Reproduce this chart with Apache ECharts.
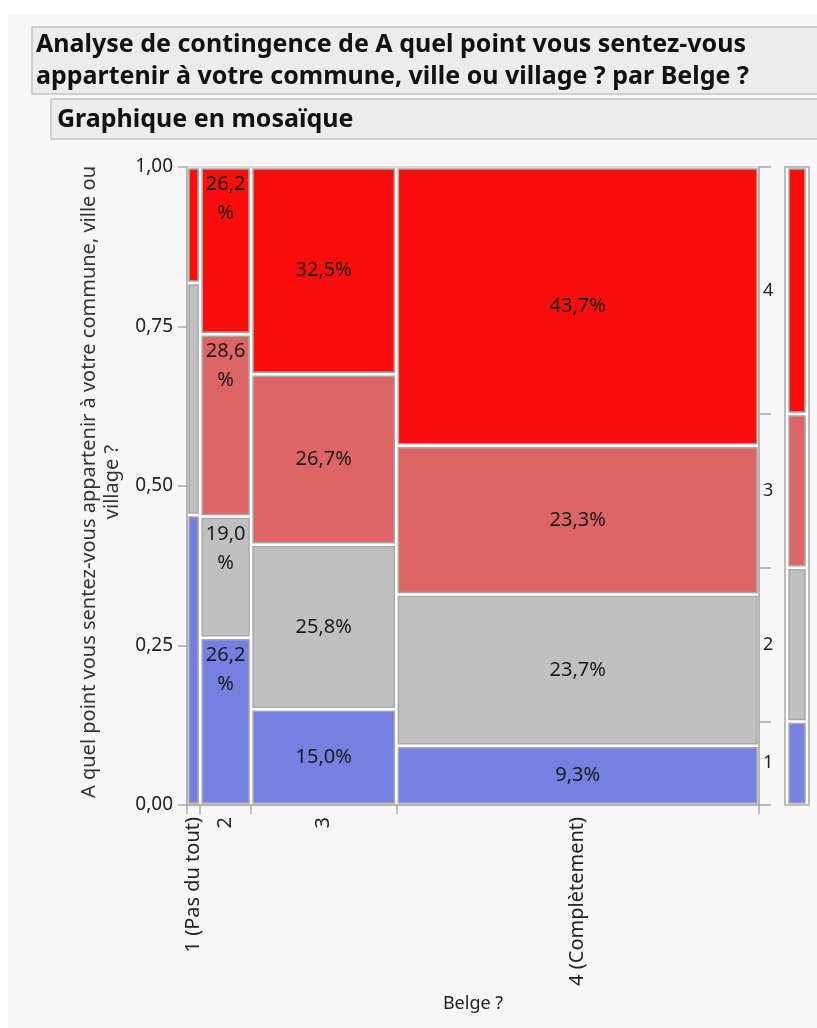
<!DOCTYPE html>
<html lang="fr" style="height: 100%">

<head>
    <meta charset="UTF-8">
    <title>Graphique en mosaïque</title>
    <script type="text/javascript" src="https://cdn.jsdelivr.net/npm/echarts@6/dist/echarts.min.js"></script>
</head>

<body style="height: 100%; margin: 0">
    <div id="container" style="width: 817px; height: 1028px"></div>
    <script type="text/javascript">
    // Belge ? (colonnes du graphique)
    var belgeLevels = ['1 (Pas du tout)', '2', '3', '4 (Complètement)'];
    var belgeShare = [2.3, 8.9, 25.4, 63.4];
    // niveaux empilés de bas en haut
    var feelLevels = ['1', '2', '3', '4'];
    var pctLevel1 = [45.5, 26.2, 15.0, 9.3];
    var pctLevel2 = [36.4, 19.0, 25.8, 23.7];
    var pctLevel3 = [0, 28.6, 26.7, 23.3];
    var pctLevel4 = [18.2, 26.2, 32.5, 43.7];
    var levelColors = ['#7680e0', '#c0c0c0', '#de6565', '#fa0d0d'];

    var fontFamily = '"Noto Sans", "Open Sans", sans-serif';
    var pctByLevel = [pctLevel1, pctLevel2, pctLevel3, pctLevel4];

    function fr(v, d) {
        return v.toFixed(d).replace('.', ',');
    }

    // bords des colonnes (0..1)
    var colEdges = [0];
    belgeShare.forEach(function(s) {
        colEdges.push(colEdges[colEdges.length - 1] + s);
    });
    var shareTotal = colEdges[colEdges.length - 1];
    colEdges = colEdges.map(function(v) { return v / shareTotal; });
    var colMids = [];
    for (var i = 0; i < belgeLevels.length; i++) colMids.push((colEdges[i] + colEdges[i + 1]) / 2);

    // cellules de la mosaique
    var cells = [];
    belgeLevels.forEach(function(name, c) {
        var colSum = 0;
        pctByLevel.forEach(function(p) { colSum += p[c]; });
        var y = 0;
        pctByLevel.forEach(function(p, l) {
            if (p[c] <= 0) return;
            var h = p[c] / colSum;
            cells.push({ value: [colEdges[c], colEdges[c + 1], y, y + h, l], pct: p[c] });
            y += h;
        });
    });

    // repartition globale (barre de droite)
    var overall = pctByLevel.map(function(p) {
        var s = 0;
        p.forEach(function(v, c) { s += v * belgeShare[c] / shareTotal; });
        return s / 100;
    });
    var overallSum = overall.reduce(function(a, b) { return a + b; }, 0);
    var margEdges = [0];
    overall.forEach(function(v) { margEdges.push(margEdges[margEdges.length - 1] + v / overallSum); });
    var margMids = [];
    for (var k = 0; k < feelLevels.length; k++) margMids.push((margEdges[k] + margEdges[k + 1]) / 2);
    var margCells = overall.map(function(v, l) {
        return { value: [0, 1, margEdges[l], margEdges[l + 1], l] };
    });

    function nearest(arr, v) {
        var best = 0;
        arr.forEach(function(a, i) {
            if (Math.abs(a - v) < Math.abs(arr[best] - v)) best = i;
        });
        return best;
    }

    function renderCell(params, api) {
        var tl = api.coord([api.value(0), api.value(3)]);
        var br = api.coord([api.value(1), api.value(2)]);
        var x = tl[0] + 2, y = tl[1] + 2;
        var w = br[0] - tl[0] - 4, h = br[1] - tl[1] - 4;
        var children = [{
            type: 'rect',
            shape: { x: x, y: y, width: w, height: h },
            style: { fill: levelColors[api.value(4)], stroke: '#a9a9a9', lineWidth: 1.5 }
        }];
        var cell = cells[params.dataIndex];
        if (w > 30) {
            var txt = fr(cell.pct, 1);
            if (w < 80) {
                children.push({
                    type: 'text', x: x + w / 2, y: y + 1,
                    style: { text: txt + '\n%', align: 'center', verticalAlign: 'top', lineHeight: 29,
                        font: '20px ' + fontFamily, fill: '#1a1a1a' }
                });
            } else {
                children.push({
                    type: 'text', x: x + w / 2, y: y + h / 2,
                    style: { text: txt + '%', align: 'center', verticalAlign: 'middle',
                        font: '20px ' + fontFamily, fill: '#1a1a1a' }
                });
            }
        }
        return { type: 'group', children: children };
    }

    function renderMarg(params, api) {
        var tl = api.coord([api.value(0), api.value(3)]);
        var br = api.coord([api.value(1), api.value(2)]);
        return {
            type: 'rect',
            shape: { x: tl[0] + 4, y: tl[1] + 2, width: br[0] - tl[0] - 8, height: br[1] - tl[1] - 4 },
            style: { fill: levelColors[api.value(4)], stroke: '#a9a9a9', lineWidth: 1.5 }
        };
    }

    var axisColor = '#a8a8a8';
    var textColor = '#222';

    var myChart = echarts.init(document.getElementById('container'));
    var option = {
        backgroundColor: '#f7f7f7',
        animation: false,
        graphic: [
            { type: 'rect', shape: { x: 0, y: 0, width: 817, height: 14 }, style: { fill: '#fff' } },
            { type: 'rect', shape: { x: 0, y: 0, width: 8, height: 1028 }, style: { fill: '#fff' } },
            { type: 'rect', shape: { x: 32, y: 27, width: 800, height: 67 },
              style: { fill: '#ececec', stroke: '#c4c4c4', lineWidth: 1.5 } },
            { type: 'text', x: 36, y: 45,
              style: { text: 'Analyse de contingence de A quel point vous sentez-vous', verticalAlign: 'middle',
                font: 'bold 25px ' + fontFamily, fill: '#111' } },
            { type: 'text', x: 36, y: 77,
              style: { text: 'appartenir à votre commune, ville ou village ? par Belge ?', verticalAlign: 'middle',
                font: 'bold 25px ' + fontFamily, fill: '#111' } },
            { type: 'rect', shape: { x: 51, y: 99, width: 780, height: 40 },
              style: { fill: '#ececec', stroke: '#c4c4c4', lineWidth: 1.5 } },
            { type: 'text', x: 57, y: 120,
              style: { text: 'Graphique en mosaïque', verticalAlign: 'middle',
                font: 'bold 25px ' + fontFamily, fill: '#111' } },
            { type: 'text', x: 101, y: 482, rotation: Math.PI / 2,
              style: { text: 'A quel point vous sentez-vous appartenir à votre commune, ville ou\nvillage ?',
                align: 'center', verticalAlign: 'middle', lineHeight: 23,
                font: '20px ' + fontFamily, fill: '#333' } }
        ],
        grid: [{
            left: 187, right: 58, top: 167, bottom: 223,
            show: true, backgroundColor: '#fff', borderColor: '#c0c0c0', borderWidth: 1
        }, {
            left: 785, width: 24, top: 167, bottom: 223,
            show: true, backgroundColor: '#fff', borderColor: axisColor, borderWidth: 1.5
        }],
        xAxis: [{
            type: 'value', gridIndex: 0, min: 0, max: 1,
            splitLine: { show: false },
            axisLine: { lineStyle: { color: axisColor, width: 1.5 } },
            axisTick: { length: 9, customValues: colEdges, lineStyle: { color: axisColor, width: 1.5 } },
            axisLabel: {
                customValues: colMids, rotate: 90, margin: 12,
                color: textColor, fontSize: 20, fontFamily: fontFamily,
                formatter: function(v) { return belgeLevels[nearest(colMids, v)]; }
            },
            name: 'Belge ?', nameLocation: 'middle', nameGap: 190,
            nameTextStyle: { color: textColor, fontSize: 18, fontFamily: fontFamily }
        }, {
            type: 'value', gridIndex: 1, min: 0, max: 1, show: false
        }],
        yAxis: [{
            type: 'value', gridIndex: 0, min: 0, max: 1, interval: 0.25,
            splitLine: { show: false },
            axisLine: { show: true, lineStyle: { color: axisColor, width: 1.5 } },
            axisTick: { show: true, length: 9, lineStyle: { color: axisColor, width: 1.5 } },
            axisLabel: {
                margin: 14, color: textColor, fontSize: 19, fontFamily: fontFamily,
                formatter: function(v) { return fr(v, 2); }
            }
        }, {
            type: 'value', gridIndex: 0, min: 0, max: 1, position: 'right',
            splitLine: { show: false },
            axisLine: { show: true, lineStyle: { color: axisColor, width: 1.5 } },
            axisTick: { show: true, length: 12, customValues: margEdges, lineStyle: { color: axisColor, width: 1.5 } },
            axisLabel: {
                customValues: margMids, margin: 4, color: textColor, fontSize: 18, fontFamily: fontFamily,
                formatter: function(v) { return feelLevels[nearest(margMids, v)]; }
            }
        }, {
            type: 'value', gridIndex: 1, min: 0, max: 1, show: false
        }],
        series: [{
            type: 'custom',
            xAxisIndex: 0, yAxisIndex: 0,
            renderItem: renderCell,
            data: cells
        }, {
            type: 'custom',
            xAxisIndex: 1, yAxisIndex: 2,
            renderItem: renderMarg,
            data: margCells
        }]
    };
    myChart.setOption(option);
    </script>
</body>

</html>
